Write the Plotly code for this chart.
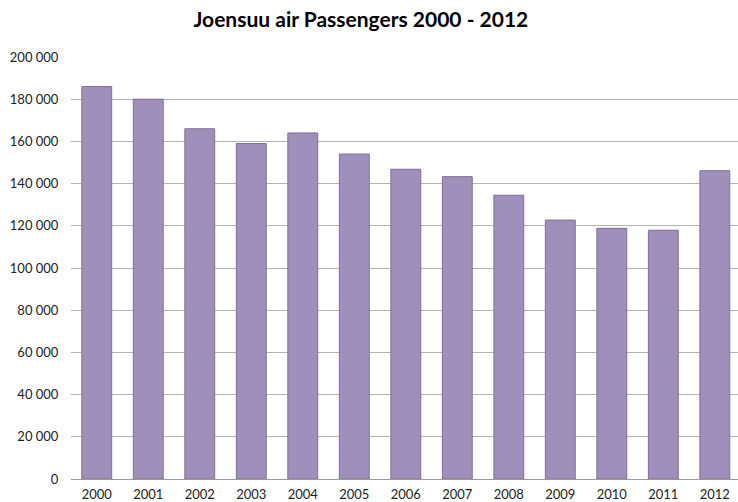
import plotly.graph_objects as go

years = ["2000", "2001", "2002", "2003", "2004", "2005", "2006",
         "2007", "2008", "2009", "2010", "2011", "2012"]
passengers = [186000, 180000, 166000, 159000, 164000, 154000, 146800,
              143300, 134500, 122700, 118800, 117900, 146100]
y_ticks = [0, 20000, 40000, 60000, 80000, 100000, 120000, 140000,
           160000, 180000, 200000]

fig = go.Figure(go.Bar(
    x=years, y=passengers,
    marker=dict(color="#9f90bb", line=dict(color="#7f6f98", width=1)),
    hoverinfo="x+y",
))

font = "Lato, 'Open Sans', sans-serif"
fig.update_layout(
    width=738, height=502,
    margin=dict(l=71, r=0, t=57, b=23),
    paper_bgcolor="white", plot_bgcolor="white",
    separators=", ",
    bargap=0.42,
    showlegend=False,
    title=dict(text="<b>Joensuu air Passengers 2000 - 2012</b>",
               x=0.489, xanchor="center", y=0.96, yanchor="middle",
               font=dict(family=font, size=21, color="black")),
    font=dict(family=font, size=13, color="#222222"),
)
fig.update_xaxes(range=[-0.5, 12.45], showgrid=False, showline=False,
                 automargin=False,
                 ticks="outside", ticklen=3, tickcolor="rgba(0,0,0,0)",
                 tickfont=dict(size=13, color="#222222"))
fig.update_yaxes(range=[0, 200000], tickvals=y_ticks, tickformat=",d",
                 automargin=False,
                 showgrid=True, gridcolor="#b3b3b3", gridwidth=1,
                 zeroline=True, zerolinecolor="#9a9a9a", zerolinewidth=1,
                 ticks="outside", ticklen=9, tickcolor="rgba(0,0,0,0)",
                 tickfont=dict(size=13, color="#222222"))

fig.write_html("out.html",
               config={"displayModeBar": False},
               post_script="document.body.style.margin='0';"
                           "document.body.style.overflow='hidden';")
